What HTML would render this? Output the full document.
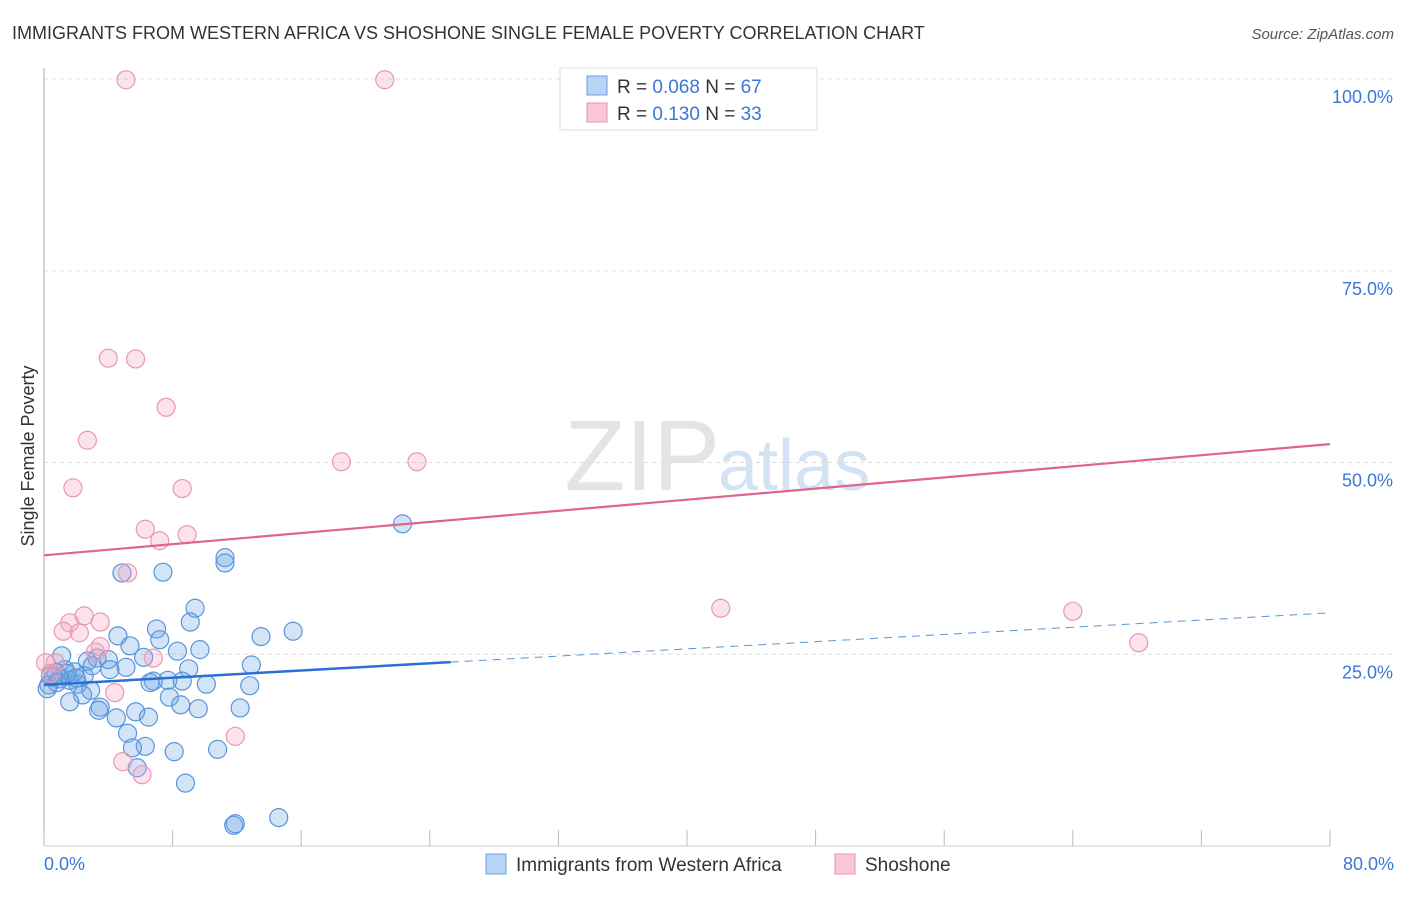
<!DOCTYPE html>
<html><head><meta charset="utf-8"><style>
body{margin:0;background:#fff;font-family:"Liberation Sans",sans-serif;}
svg text{font-family:"Liberation Sans",sans-serif;}
</style></head><body>
<svg width="1406" height="892">
<text x="12" y="39" font-size="18" fill="#333">IMMIGRANTS FROM WESTERN AFRICA VS SHOSHONE SINGLE FEMALE POVERTY CORRELATION CHART</text>
<text x="1394" y="39" font-size="15" fill="#555" font-style="italic" text-anchor="end">Source: ZipAtlas.com</text>
<text x="720" y="490" font-size="100" fill="#e4e4e4" text-anchor="end" font-family="Liberation Serif">ZIP</text>
<text x="718" y="490" font-size="72" fill="#d4e3f4">atlas</text>
<g id="grid"></g>
<g id="axes"></g>
<text transform="translate(34,456) rotate(-90)" font-size="18" fill="#333" text-anchor="middle">Single Female Poverty</text>
<g id="marks"></g>
<g id="trends"></g>
<g>
<rect x="560" y="68" width="257" height="62" fill="#fff" stroke="#ddd"/>
<rect x="587" y="76" width="20" height="19" fill="#b8d4f4" stroke="#6a9fe0"/>
<rect x="587" y="103" width="20" height="19" fill="#f8c8d8" stroke="#e890b0"/>
<text x="617" y="93" font-size="19" fill="#333">R = <tspan fill="#3a78d8">0.068</tspan>   N = <tspan fill="#3a78d8">67</tspan></text>
<text x="617" y="120" font-size="19" fill="#333">R =  <tspan fill="#3a78d8">0.130</tspan>   N = <tspan fill="#3a78d8">33</tspan></text>
</g>
<g>
<rect x="486" y="854" width="20" height="20" fill="#b8d4f4" stroke="#6a9fe0"/>
<text x="516" y="871" font-size="19" fill="#333">Immigrants from Western Africa</text>
<rect x="835" y="854" width="20" height="20" fill="#f8c8d8" stroke="#e890b0"/>
<text x="865" y="871" font-size="19" fill="#333">Shoshone</text>
</g>
</svg>
<script>
const xTicks=[0,10,20,30,40,50,60,70,80];
const yTicks=[25,50,75,100];
const blueX=[22.3,11.26,11.26,4.85,7.4,9.4,9.1,7.0,15.5,13.5,4.6,7.2,5.35,9.7,8.3,1.1,6.2,3.3,4.0,2.7,5.1,4.1,12.9,9.0,1.3,1.9,0.75,0.4,2.5,1.6,2.1,6.8,6.6,7.7,8.6,10.1,12.8,2.9,2.4,1.6,7.8,8.5,9.6,12.2,3.5,3.4,5.7,6.5,4.5,5.2,6.3,5.5,8.1,10.8,5.8,8.8,11.8,11.9,14.6,0.3,0.6,1.0,0.2,1.4,2.0,3.0,0.8];
const blueY=[42.0,37.6,36.9,35.6,35.7,31.0,29.2,28.3,28.0,27.3,27.4,26.9,26.1,25.6,25.4,24.8,24.6,24.5,24.3,24.1,23.3,23.0,23.6,23.1,23.0,22.7,22.6,22.2,22.2,21.6,21.1,21.5,21.3,21.6,21.5,21.1,20.9,20.3,19.7,18.8,19.4,18.4,17.9,18.0,18.1,17.7,17.5,16.8,16.7,14.7,13.0,12.8,12.3,12.6,10.2,8.2,2.7,2.9,3.7,21.0,22.0,21.8,20.5,22.5,21.9,23.5,21.3];
const pinkX=[5.1,21.2,36.9,4.0,5.7,7.6,2.7,18.5,23.2,1.8,8.6,6.3,7.2,8.9,5.2,42.1,64.0,68.1,2.5,1.6,1.2,2.2,3.5,3.5,3.2,6.8,0.7,0.1,4.4,4.9,6.1,11.9,0.4];
const pinkY=[99.9,99.9,99.9,63.6,63.5,57.2,52.9,50.1,50.1,46.7,46.6,41.3,39.8,40.6,35.6,31.0,30.6,26.5,30.0,29.1,28.0,27.8,29.2,26.0,25.3,24.5,23.9,23.9,20.0,11.0,9.3,14.3,22.5];
const blueTrend=[21.0,30.4], blueSolidEnd=25.3;
const pinkTrend=[37.9,52.4];
const NS='http://www.w3.org/2000/svg';
const X0=44,X1=1330,Y0=846,Y100=79;
const sx=v=>X0+(v/80)*(X1-X0);
const sy=v=>Y0-(v/100)*(Y0-Y100);
function mk(t,a,p){const e=document.createElementNS(NS,t);for(const k in a)e.setAttribute(k,a[k]);p.appendChild(e);return e;}
const grid=document.getElementById('grid'),axes=document.getElementById('axes'),marks=document.getElementById('marks'),tr=document.getElementById('trends');
yTicks.forEach(v=>{
 const l=mk('line',{x1:X0,x2:1394,y1:sy(v),y2:sy(v),stroke:'#ddd','stroke-dasharray':'4,4'},grid);
 
 
 const t=mk('text',{x:1393,y:sy(v)+24,'font-size':18,fill:'#3a78d8','text-anchor':'end'},axes);
 t.textContent=v.toFixed(1)+'%';
 
 
});
mk('line',{x1:X0,x2:X0,y1:68,y2:Y0,stroke:'#aaa'},axes);
mk('line',{x1:X0,x2:X1,y1:Y0,y2:Y0,stroke:'#ccc'},axes);
for(let i=0;i<=10;i++){const x=X0+i*(X1-X0)/10;const l=mk('line',{x1:x,x2:x,y1:830,y2:Y0,stroke:'#bbb'},axes);
 
 }
[[0,'0.0%','start',X0],[80,'80.0%','end',1394]].forEach(d=>{const t=mk('text',{x:d[3],y:870,'font-size':18,fill:'#3a78d8','text-anchor':d[2]},axes);t.textContent=d[1];
 
 });
blueX.forEach((v,i)=>{const c=mk('circle',{cx:sx(v),cy:sy(blueY[i]),r:9,fill:'rgba(110,165,230,0.3)',stroke:'#5a94dc','stroke-width':1.2},marks);
 
 });
pinkX.forEach((v,i)=>{const c=mk('circle',{cx:sx(v),cy:sy(pinkY[i]),r:9,fill:'rgba(245,160,190,0.3)',stroke:'#e898b4','stroke-width':1.2},marks);
 
 });
const by=x=>blueTrend[0]+(blueTrend[1]-blueTrend[0])*x/80;
let l1=mk('line',{x1:sx(0),y1:sy(by(0)),x2:sx(blueSolidEnd),y2:sy(by(blueSolidEnd)),stroke:'#2a6fd8','stroke-width':2.5},tr);


let l2=mk('line',{x1:sx(blueSolidEnd),y1:sy(by(blueSolidEnd)),x2:sx(80),y2:sy(by(80)),stroke:'#5a94dc','stroke-width':1,'stroke-dasharray':'8,6'},tr);


let l3=mk('line',{x1:sx(0),y1:sy(pinkTrend[0]),x2:sx(80),y2:sy(pinkTrend[1]),stroke:'#e06490','stroke-width':2.2},tr);


</script>
</body></html>
